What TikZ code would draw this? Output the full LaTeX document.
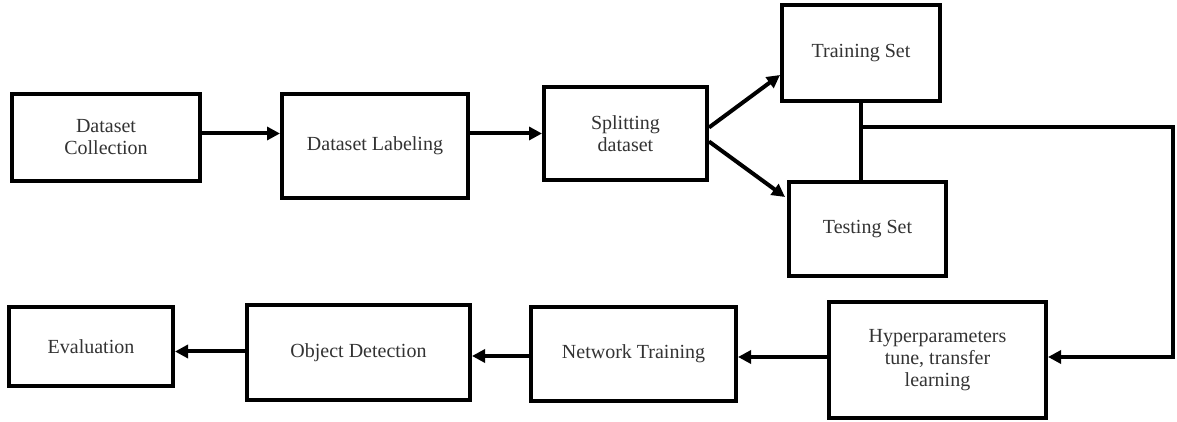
\documentclass[tikz,border=0pt]{standalone}
\usepackage{fontspec}
\setmainfont{Liberation Serif}
\usetikzlibrary{arrows.meta}
\begin{document}
\begin{tikzpicture}[x=1pt,y=1pt,
  box/.style={draw=black, line width=4pt, fill=white, align=center, text=black!80,
    font=\fontsize{20}{22}\selectfont, inner sep=2pt},
  conn/.style={draw=black, line width=4pt},
  arr/.style={conn, -{Triangle[length=13pt,width=13pt]}}]
\useasboundingbox (0,0) rectangle (1177,422);
\fill[white] (0,0) rectangle (1177,422);
\node[box, minimum width=188, minimum height=87] (coll) at (106,{422-137.5}) {Dataset\\Collection};
\node[box, minimum width=186, minimum height=104] (label) at (375,{422-146}) {Dataset Labeling};
\node[box, minimum width=163, minimum height=93] (split) at (625.5,{422-133.5}) {Splitting\\dataset};
\node[box, minimum width=158, minimum height=96] (train) at (861,{422-53}) {Training Set};
\node[box, minimum width=157, minimum height=94] (test) at (867.5,{422-229}) {Testing Set};
\node[box, minimum width=217, minimum height=116] (hyper) at (937.5,{422-360}) {Hyperparameters\\tune, transfer\\learning};
\node[box, minimum width=205, minimum height=94] (net) at (633.5,{422-354}) {Network Training};
\node[box, minimum width=223, minimum height=95] (obj) at (358.5,{422-352.5}) {Object Detection};
\node[box, minimum width=164, minimum height=79] (eval) at (91,{422-346.5}) {Evaluation};

\coordinate (a1) at ([yshift=4pt]coll.east);
\draw[arr] (a1) -- (label.west |- a1);
\draw[arr] (split.west -| label.east) -- (split.west);
\draw[arr] ([yshift=6pt]split.east) -- ([yshift=-22pt]train.west);
\draw[arr] ([yshift=-8pt]split.east) -- ([xshift=-2pt,yshift=32pt]test.west);
\draw[conn] (train.south) -- (train.south |- test.north);
\coordinate (j) at ([yshift=-24pt]train.south);
\coordinate (r) at (1173,{422-127});
\draw[arr] (j) -- (r) |- ([yshift=3pt]hyper.east);
\coordinate (a2) at ([yshift=3pt]hyper.west);
\draw[arr] (a2) -- (net.east |- a2);
\coordinate (a3) at ([yshift=-2pt]net.west);
\draw[arr] (a3) -- (obj.east |- a3);
\coordinate (a4) at ([yshift=1pt]obj.west);
\draw[arr] (a4) -- (eval.east |- a4);
\end{tikzpicture}
\end{document}
